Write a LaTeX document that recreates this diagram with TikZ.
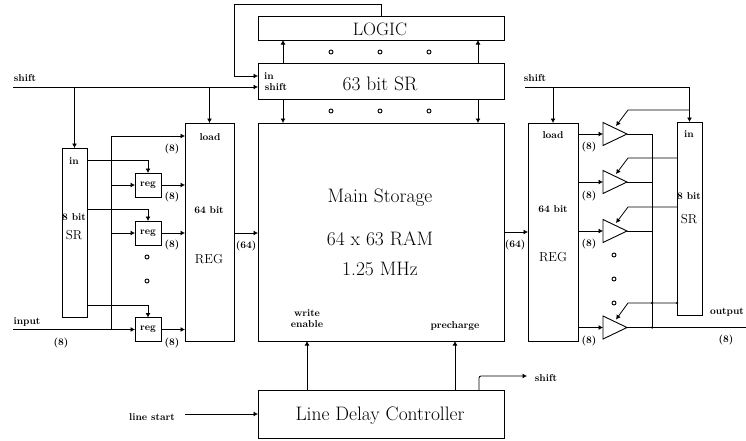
\documentclass[tikz,border=0pt]{standalone}
\usepackage{tikz}
\usetikzlibrary{arrows.meta, shapes.geometric}

\tikzset{
    blockbox/.style={draw, line width=0.9pt, inner sep=0pt, outer sep=0pt},
    sig/.style={line width=0.8pt, -{Latex[length=4.5pt, width=5pt]}},
    wire/.style={line width=0.8pt},
    buftri/.style={draw, line width=0.9pt, isosceles triangle, isosceles triangle stretches, shape border rotate=0, minimum width=23pt, minimum height=24pt, inner sep=0pt, outer sep=0pt, anchor=west},
    holedot/.style={draw, circle, line width=0.9pt, minimum size=4pt, inner sep=0pt},
    joint/.style={fill, circle, minimum size=2.5pt, inner sep=0pt},
    biglabel/.style={font=\fontsize{19.5}{19.5}\selectfont, inner sep=0pt},
    midlabel/.style={font=\fontsize{13}{13}\selectfont, inner sep=0pt},
    tinylabel/.style={font=\fontsize{10}{11}\selectfont\bfseries, inner sep=0pt, align=center},
    buslabel/.style={font=\fontsize{10}{10}\selectfont\bfseries, inner sep=0pt}
}

\begin{document}
\begin{tikzpicture}[x=1pt, y=-1pt]
    \useasboundingbox (0,0) rectangle (746,440);

    % Bloques centrales
    \node[blockbox, minimum width=246pt, minimum height=24pt] (logic) at (381,28) {};
    \node[blockbox, minimum width=246pt, minimum height=36pt] (srtop) at (381,81) {};
    \node[blockbox, minimum width=246pt, minimum height=218pt] (mainram) at (381,232) {};
    \node[blockbox, minimum width=246pt, minimum height=48pt] (ctrl) at (381,414) {};

    % Lado izquierdo
    \node[blockbox, minimum width=25pt, minimum height=169pt] (srleft) at (74.5,232.5) {};
    \node[blockbox, minimum width=49pt, minimum height=218pt] (regleft) at (209.5,232) {};
    \node[blockbox, tinylabel, minimum width=26pt, minimum height=24pt] (rega) at (148,185) {reg};
    \node[blockbox, tinylabel, minimum width=26pt, minimum height=24pt] (regb) at (148,233) {reg};
    \node[blockbox, tinylabel, minimum width=26pt, minimum height=24pt] (regc) at (148,329.5) {reg};

    % Lado derecho
    \node[blockbox, minimum width=50pt, minimum height=218pt] (regright) at (553,232) {};
    \node[blockbox, minimum width=25pt, minimum height=193pt] (srright) at (689.5,218.5) {};
    \node[buftri] (bufa) at (603,134) {};
    \node[buftri] (bufb) at (603,182) {};
    \node[buftri] (bufc) at (603,231) {};
    \node[buftri] (bufd) at (603,327.5) {};

    % Extremos libres
    \coordinate (shiftstart) at (13,87);
    \coordinate (inputstart) at (13,329.5);
    \coordinate (linestart) at (185,414);
    \coordinate (shiftright) at (525,87);
    \coordinate (outend) at (746,327.5);
    \coordinate (shiftend) at (527,376);

    % Lazo de LOGIC
    \draw[sig] (logic.north) -- ++(0,-12) -| (234,76) -- (234,76 -| srtop.west);
    \draw[sig] ([xshift=25pt]srtop.north west) -- ([xshift=25pt]logic.south west);
    \draw[sig] ([xshift=220pt]srtop.north west) -- ([xshift=220pt]logic.south west);
    \draw[sig] ([xshift=25pt]srtop.south west) -- ([xshift=25pt]mainram.north west);
    \draw[sig] ([xshift=220pt]srtop.south west) -- ([xshift=220pt]mainram.north west);

    % Linea shift izquierda
    \draw[sig] (shiftstart) -- (shiftstart -| srtop.west);
    \draw[sig] (shiftstart -| srleft.north) -- (srleft.north);
    \draw[sig] (shiftstart -| regleft.north) -- (regleft.north);

    % Entrada y registros
    \draw[sig] (inputstart) -- (regc.west);
    \draw[wire] (111,329.5) -- (111,136);
    \draw[sig] (111,136) -- (111,136 -| regleft.west);
    \draw[sig] (111,185 |- rega.west) -- (rega.west);
    \draw[sig] (111,185 |- regb.west) -- (regb.west);
    \draw[sig] (rega.east) -- (rega.east -| regleft.west);
    \draw[sig] (regb.east) -- (regb.east -| regleft.west);
    \draw[sig] (regc.east) -- (regc.east -| regleft.west);
    \draw[sig] (srleft.east |- 0,160) -| (rega.north);
    \draw[sig] (srleft.east |- 0,209) -| (regb.north);
    \draw[sig] (srleft.east |- 0,305) -| (regc.north);

    % Buses de 64
    \draw[sig] (regleft.east |- regb.east) -- (mainram.west |- regb.east);
    \draw[sig] (mainram.east |- 0,232) -- (regright.west |- 0,232);

    % Linea shift derecha
    \draw[sig] (shiftright) -| (srright.north);
    \draw[sig] (shiftright -| regright.north) -- (regright.north);

    % Buffers
    \draw[sig] (regright.east |- bufa.west) -- (bufa.west);
    \draw[sig] (regright.east |- bufb.west) -- (bufb.west);
    \draw[sig] (regright.east |- bufc.west) -- (bufc.west);
    \draw[sig] (regright.east |- bufd.west) -- (bufd.west);
    \draw[sig] (srright.north |- 0,110) -- (628,110) -- ([shift={(13,-8)}]bufa.west);
    \draw[sig] (srright.west |- 0,158) -- (628,158) -- ([shift={(13,-8)}]bufb.west);
    \draw[sig] (srright.west |- 0,207) -- (628,207) -- ([shift={(13,-8)}]bufc.west);
    \draw[sig] (srright.west |- 0,303) -- (628,303) -- ([shift={(13,-8)}]bufd.west);
    \draw[wire] (bufa.apex) -- (652,134) -- (652,327.5);
    \draw[wire] (bufb.apex) -- (652,182);
    \draw[wire] (bufc.apex) -- (652,231);
    \draw[wire] (bufd.apex) -- (outend);
    \node[joint] (jointa) at (652,327.5) {};
    \node[joint] (jointb) at (652,303) {};
    \node[joint] (jointc) at (677,303) {};

    % Controlador
    \draw[sig] (linestart) -- (ctrl.west);
    \draw[sig] ([xshift=49pt]ctrl.north west) -- ([xshift=49pt]mainram.south west);
    \draw[sig] ([xshift=197pt]ctrl.north west) -- ([xshift=197pt]mainram.south west);
    \draw[sig, rounded corners=2pt] ([xshift=221pt]ctrl.north west) |- (shiftend);

    % Puntos
    \node[holedot] (dota) at (331,52) {};
    \node[holedot] (dotb) at (380,52) {};
    \node[holedot] (dotc) at (429,52) {};
    \node[holedot] (dotd) at (331,111) {};
    \node[holedot] (dote) at (380,111) {};
    \node[holedot] (dotf) at (429,111) {};
    \node[holedot] (dotg) at (147,257) {};
    \node[holedot] (doth) at (147,281) {};
    \node[holedot] (doti) at (614,255) {};
    \node[holedot] (dotj) at (614,279) {};
    \node[holedot] (dotk) at (614,303) {};

    % Textos grandes
    \node[biglabel, font=\fontsize{18}{18}\selectfont] (logictxt) at (380,29) {LOGIC};
    \node[biglabel] (srtoptxt) at (380,84) {63 bit SR};
    \node[biglabel] (maintxta) at (380,198) {Main Storage};
    \node[biglabel] (maintxtb) at (380,239) {64 x 63 RAM};
    \node[biglabel] (maintxtc) at (380,269) {1.25 MHz};
    \node[biglabel] (ctrltxt) at (380,416) {Line Delay Controller};

    % Textos medianos
    \node[midlabel] (srtxta) at (74,235) {SR};
    \node[midlabel] (srtxtb) at (689,219) {SR};
    \node[midlabel] (regtxta) at (209,259) {REG};
    \node[midlabel] (regtxtb) at (553,257) {REG};

    % Textos chicos
    \node[tinylabel] (shifttxta) at (25,78) {shift};
    \node[tinylabel] (inputtxt) at (27,322) {input};
    \node[tinylabel] (linetxt) at (152,417) {line start};
    \node[tinylabel] (shifttxtb) at (546,378) {shift};
    \node[tinylabel] (shifttxtc) at (535,78) {shift};
    \node[tinylabel] (outputtxt) at (727,312) {output};
    \node[tinylabel] (srtopin) at (269,76) {in};
    \node[tinylabel] (srtopshift) at (276,87) {shift};
    \node[tinylabel] (intxta) at (74,161) {in};
    \node[tinylabel] (intxtb) at (689,134) {in};
    \node[tinylabel] (bittxta) at (74,217) {8 bit};
    \node[tinylabel] (bittxtb) at (689,196) {8 bit};
    \node[tinylabel] (loadtxta) at (210,137) {load};
    \node[tinylabel] (loadtxtb) at (553,135) {load};
    \node[tinylabel] (regbita) at (209,210) {64 bit};
    \node[tinylabel] (regbitb) at (553,209) {64 bit};
    \node[tinylabel] (writetxt) at (307,319) {write\\enable};
    \node[tinylabel] (prechtxt) at (455,326) {precharge};

    % Anchos de bus
    \node[buslabel] (busa) at (172,149) {(8)};
    \node[buslabel] (busb) at (172,197) {(8)};
    \node[buslabel] (busc) at (172,245) {(8)};
    \node[buslabel] (busd) at (172,343) {(8)};
    \node[buslabel] (buse) at (61,343) {(8)};
    \node[buslabel] (busf) at (246,246) {(64)};
    \node[buslabel] (busg) at (515,245) {(64)};
    \node[buslabel] (bush) at (589,147) {(8)};
    \node[buslabel] (busi) at (589,196) {(8)};
    \node[buslabel] (busj) at (589,244) {(8)};
    \node[buslabel] (busk) at (589,341) {(8)};
    \node[buslabel] (busl) at (726,340) {(8)};
\end{tikzpicture}
\end{document}
